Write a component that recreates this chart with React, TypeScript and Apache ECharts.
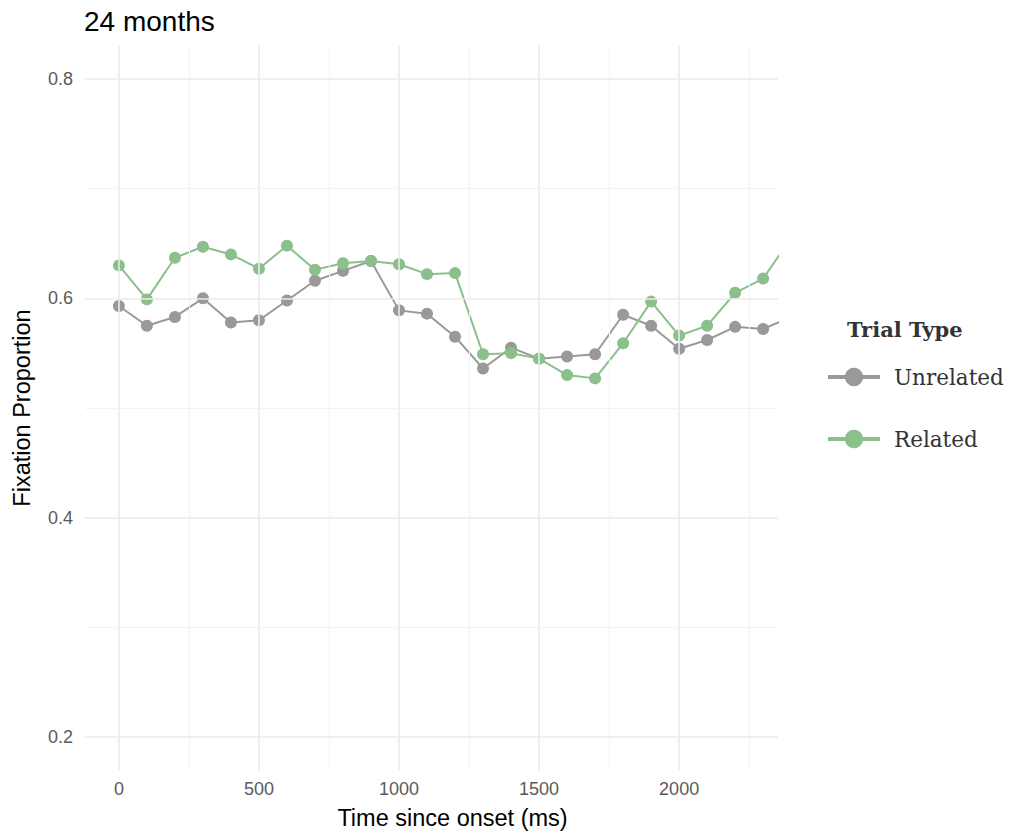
import React, { useEffect, useRef } from "react";
import * as echarts from "echarts";

const times = [0, 100, 200, 300, 400, 500, 600, 700, 800, 900, 1000, 1100, 1200, 1300, 1400, 1500, 1600, 1700, 1800, 1900, 2000, 2100, 2200, 2300, 2400];
const unrelated = [0.593, 0.575, 0.583, 0.600, 0.578, 0.580, 0.598, 0.616, 0.625, 0.634, 0.589, 0.586, 0.565, 0.536, 0.555, 0.545, 0.547, 0.549, 0.585, 0.575, 0.554, 0.562, 0.574, 0.572, 0.583];
const related = [0.630, 0.599, 0.637, 0.647, 0.640, 0.627, 0.648, 0.626, 0.632, 0.634, 0.631, 0.622, 0.623, 0.549, 0.550, 0.545, 0.530, 0.527, 0.559, 0.597, 0.566, 0.575, 0.605, 0.618, 0.655];
const xTicks = [0, 500, 1000, 1500, 2000];
const xMinor = [250, 750, 1250, 1750, 2250];
const yTicks = [0.2, 0.4, 0.6, 0.8];
const yMinor = [0.3, 0.5, 0.7];

const SANS = "'Liberation Sans', Arial, Helvetica, sans-serif";
const SERIF = "'DejaVu Serif', serif";

export default function App() {
  const ref = useRef<HTMLDivElement>(null);
  useEffect(() => {
    const chart = echarts.init(ref.current!, null, { renderer: "svg" });
    const major = { type: "solid", color: "#ebebeb", width: 1.6 };
    const minor = { type: "solid", color: "#f3f3f3", width: 1 };
    const gridLines = [
      ...xTicks.map((v) => ({ xAxis: v, lineStyle: major })),
      ...xMinor.map((v) => ({ xAxis: v, lineStyle: minor })),
      ...yTicks.map((v) => ({ yAxis: v, lineStyle: major })),
      ...yMinor.map((v) => ({ yAxis: v, lineStyle: minor })),
    ];
    chart.setOption({
      animation: false,
      backgroundColor: "#ffffff",
      title: [
        {
          text: "24 months",
          left: 84,
          top: 7,
          padding: 0,
          textStyle: { fontFamily: SANS, fontSize: 28, fontWeight: "normal", color: "#000" },
        },
        {
          text: "Trial Type",
          left: 847,
          top: 319,
          padding: 0,
          textStyle: { fontFamily: SERIF, fontSize: 21, fontWeight: "bold", color: "#333" },
        },
      ],
      legend: {
        data: ["Unrelated", "Related"],
        orient: "vertical",
        left: 826,
        top: 366,
        padding: 0,
        itemWidth: 52,
        itemHeight: 23,
        itemGap: 40,
        lineStyle: { width: 4 },
        textStyle: { fontFamily: SERIF, fontSize: 21.5, color: "#333", padding: [0, 0, 0, 9] },
      },
      grid: { left: 85, right: 233, top: 46, bottom: 64, outerBoundsMode: "none", containLabel: false },
      xAxis: {
        type: "value",
        min: -121,
        max: 2353,
        name: "Time since onset (ms)",
        nameLocation: "middle",
        nameGap: 36,
        nameTextStyle: { fontFamily: SANS, fontSize: 23.5, color: "#000", padding: [0, 0, 0, 42] },
        axisLine: { show: false },
        axisTick: { show: false },
        splitLine: { show: false },
        axisLabel: {
          customValues: xTicks,
          formatter: (v: number) => String(v),
          fontFamily: SANS,
          fontSize: 18,
          color: "#5a5a5a",
          margin: 10,
        },
      },
      yAxis: {
        type: "value",
        min: 0.17,
        max: 0.83,
        name: "Fixation Proportion",
        nameLocation: "middle",
        nameRotate: 90,
        nameGap: 51,
        nameTextStyle: { fontFamily: SANS, fontSize: 23.5, color: "#000" },
        axisLine: { show: false },
        axisTick: { show: false },
        splitLine: { show: false },
        axisLabel: {
          customValues: yTicks,
          formatter: (v: number) => v.toFixed(1),
          fontFamily: SANS,
          fontSize: 18,
          color: "#5a5a5a",
          margin: 12,
        },
      },
      series: [
        {
          name: "grid",
          type: "line",
          data: [],
          silent: true,
          z: 0,
          markLine: {
            silent: true,
            symbol: ["none", "none"],
            label: { show: false },
            animation: false,
            data: gridLines,
          },
        },
        {
          name: "Unrelated",
          type: "line",
          data: times.map((t, i) => [t, unrelated[i]]),
          color: "#999999",
          lineStyle: { width: 2, color: "#999999" },
          itemStyle: { color: "#999999" },
          symbol: "circle",
          symbolSize: 12,
          clip: true,
          z: 2,
        },
        {
          name: "Related",
          type: "line",
          data: times.map((t, i) => [t, related[i]]),
          color: "#8bbf8b",
          lineStyle: { width: 2, color: "#8bbf8b" },
          itemStyle: { color: "#8bbf8b" },
          symbol: "circle",
          symbolSize: 12,
          clip: true,
          z: 3,
        },
      ],
    });
    return () => chart.dispose();
  }, []);
  return <div ref={ref} style={{ width: 1011, height: 834, position: "absolute", left: 0, top: 0 }} />;
}
